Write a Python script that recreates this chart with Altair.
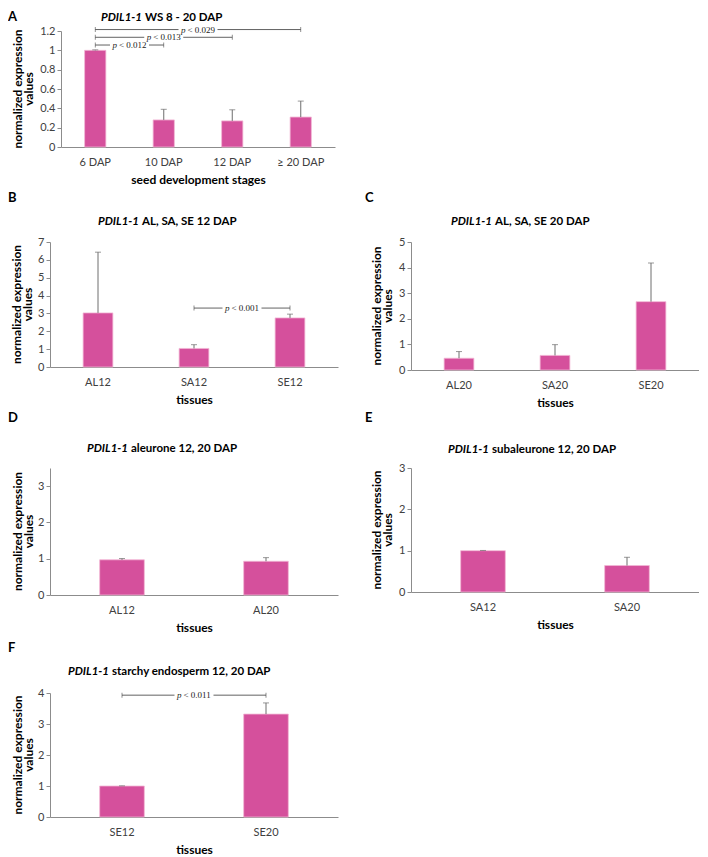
import altair as alt
import pandas as pd

FONT = "Lato"
SERIF = "Liberation Serif"
BAR = "#D5509C"
BAR_EDGE = "#F2B8D6"
AXIS = "#8C8C8C"
ERR = "#6E6E6E"
LINE = "#3A3A3A"
YTITLE1 = "normalized expression"
YTITLE2 = "values"

# ---------------- data ----------------
# A: seed development stages
a_cats = ["6 DAP", "10 DAP", "12 DAP", "≥ 20 DAP"]
a_vals = [1.00, 0.28, 0.27, 0.31]
a_errs = [0.005, 0.11, 0.115, 0.165]
a_yticks = [0, 0.2, 0.4, 0.6, 0.8, 1, 1.2]
a_br_from = [0, 0, 0]
a_br_to = [1, 2, 3]
a_br_y = [1.055, 1.135, 1.215]
a_br_p = ["< 0.012", "< 0.013", "< 0.029"]

# B: tissues 12 DAP
b_cats = ["AL12", "SA12", "SE12"]
b_vals = [3.03, 1.04, 2.75]
b_errs = [3.40, 0.21, 0.21]
b_yticks = [0, 1, 2, 3, 4, 5, 6, 7]
b_br_from = [1]
b_br_to = [2]
b_br_y = [3.3]
b_br_p = ["< 0.001"]

# C: tissues 20 DAP
c_cats = ["AL20", "SA20", "SE20"]
c_vals = [0.46, 0.57, 2.67]
c_errs = [0.26, 0.42, 1.51]
c_yticks = [0, 1, 2, 3, 4, 5]

# D: aleurone
d_cats = ["AL12", "AL20"]
d_vals = [0.97, 0.93]
d_errs = [0.035, 0.10]
d_yticks = [0, 1, 2, 3]

# E: subaleurone
e_cats = ["SA12", "SA20"]
e_vals = [1.00, 0.64]
e_errs = [0.005, 0.20]
e_yticks = [0, 1, 2, 3]

# F: starchy endosperm
f_cats = ["SE12", "SE20"]
f_vals = [1.00, 3.32]
f_errs = [0.005, 0.36]
f_yticks = [0, 1, 2, 3, 4]
f_br_from = [0]
f_br_to = [1]
f_br_y = [3.93]
f_br_p = ["< 0.011"]

TFS = 11.5  # panel title font size


def panel(cats, vals, errs, ymax, yticks, W, H, xtitle, t_it, t_rest, letter,
          t_split, t_base, l_x, l_base, ytx, br=None):
    n = len(cats)
    df = pd.DataFrame({"cat": cats, "val": vals,
                       "top": [v + e for v, e in zip(vals, errs)]})
    xs = alt.Scale(domain=cats, paddingInner=0.69, paddingOuter=0.345)
    xa = alt.Axis(title=xtitle, labelAngle=0, ticks=False, tickSize=0,
                  labelPadding=9, titleY=27, titleBaseline="top",
                  domainColor=AXIS, labelFont=FONT, labelFontSize=11,
                  labelColor="#404040", titleFont=FONT, titleFontSize=12,
                  titleFontWeight="bold", titleColor="black")
    ys = alt.Scale(domain=[0, ymax], nice=False, zero=True)
    ya = alt.Axis(title=None, values=yticks, format="~g", grid=False,
                  tickSize=4, tickColor=AXIS, domainColor=AXIS, labelPadding=2,
                  labelFont=FONT, labelFontSize=11, labelColor="#404040")
    X = alt.X("cat:N", sort=cats, scale=xs, axis=xa)
    base = alt.Chart(df)
    bars = base.mark_bar(color=BAR, stroke=BAR_EDGE, strokeWidth=0.8).encode(
        x=X, y=alt.Y("val:Q", scale=ys, axis=ya))
    err = base.mark_rule(color=ERR, strokeWidth=1).encode(
        x=X, y=alt.Y("val:Q", scale=ys, axis=ya), y2="top:Q")
    cap = base.mark_tick(orient="horizontal", color=ERR, size=6, thickness=1).encode(
        x=X, y=alt.Y("top:Q", scale=ys, axis=ya))
    main = alt.layer(bars, err, cap)

    tdf = pd.DataFrame({"it": [t_it], "rest": [t_rest], "letter": [letter],
                        "y1": [YTITLE1], "y2": [YTITLE2]})
    tb = alt.Chart(tdf)
    t1 = tb.mark_text(font=FONT, fontSize=TFS, fontWeight="bold", fontStyle="italic",
                      align="right", baseline="alphabetic", color="black").encode(
        text="it:N", x=alt.value(t_split), y=alt.value(t_base))
    t2 = tb.mark_text(font=FONT, fontSize=TFS, fontWeight="bold",
                      align="left", baseline="alphabetic", color="black").encode(
        text="rest:N", x=alt.value(t_split + 3), y=alt.value(t_base))
    t3 = tb.mark_text(font=FONT, fontSize=13, fontWeight="bold",
                      align="left", baseline="alphabetic", color="black").encode(
        text="letter:N", x=alt.value(l_x), y=alt.value(l_base))
    yt1 = tb.mark_text(font=FONT, fontSize=12, fontWeight="bold", angle=270,
                       align="center", baseline="alphabetic", color="black").encode(
        text="y1:N", x=alt.value(ytx - 11), y=alt.value(H / 2))
    yt2 = tb.mark_text(font=FONT, fontSize=12, fontWeight="bold", angle=270,
                       align="center", baseline="alphabetic", color="black").encode(
        text="y2:N", x=alt.value(ytx), y=alt.value(H / 2))
    texts = [t1, t2, t3, yt1, yt2]

    if br is None:
        ch = alt.layer(main, *texts)
    else:
        bf, bt, by, bp = br
        bdf = pd.DataFrame({"x1": bf, "x2": bt,
                            "mid": [(a + b) / 2 for a, b in zip(bf, bt)],
                            "y": by, "p": ["p"] * len(bf), "rest": bp})
        edf = pd.DataFrame({"x": list(bf) + list(bt), "y": list(by) + list(by)})
        qx = alt.Scale(domain=[-0.5, n - 0.5], nice=False, zero=False)
        Yb = alt.Y("y:Q", scale=ys, axis=ya)
        bb = alt.Chart(bdf)
        rule = bb.mark_rule(color=LINE, strokeWidth=0.8).encode(
            x=alt.X("x1:Q", scale=qx, axis=None), x2="x2:Q", y=Yb)
        ends = alt.Chart(edf).mark_tick(orient="vertical", color=LINE, size=5,
                                        thickness=0.8).encode(
            x=alt.X("x:Q", scale=qx, axis=None), y=Yb)
        gap = bb.mark_point(shape="M-1,-0.13L1,-0.13L1,0.13L-1,0.13Z", filled=True,
                            color="white", opacity=1, size=1520).encode(
            x=alt.X("mid:Q", scale=qx, axis=None), y=Yb)
        ptxt = bb.mark_text(font=SERIF, fontSize=9, fontStyle="italic", color="#222222",
                            align="left", baseline="middle", dx=-17).encode(
            x=alt.X("mid:Q", scale=qx, axis=None), y=Yb, text="p:N")
        rtxt = bb.mark_text(font=SERIF, fontSize=9, color="#222222",
                            align="left", baseline="middle", dx=-10.5).encode(
            x=alt.X("mid:Q", scale=qx, axis=None), y=Yb, text="rest:N")
        brk = alt.layer(rule, ends, gap, ptxt, rtxt)
        ch = alt.layer(main, brk, *texts).resolve_scale(x="independent")
    return ch.properties(width=W, height=H)


A = panel(a_cats, a_vals, a_errs, 1.2, a_yticks, 274, 116,
          "seed development stages", "PDIL1-1", "WS 8 - 20 DAP", "A",
          81, -10, -53, -10, -28,
          br=(a_br_from, a_br_to, a_br_y, a_br_p))
B = panel(b_cats, b_vals, b_errs, 7, b_yticks, 288, 125,
          "tissues", "PDIL1-1", "AL, SA, SE 12 DAP", "B",
          89, -17, -42, -40, -18,
          br=(b_br_from, b_br_to, b_br_y, b_br_p))
C = panel(c_cats, c_vals, c_errs, 5, c_yticks, 288, 128,
          "tissues", "PDIL1-1", "AL, SA, SE 20 DAP", "C",
          81, -17, -46, -40, -19)
D = panel(d_cats, d_vals, d_errs, 3.5, d_yticks, 288, 127,
          "tissues", "PDIL1-1", "aleurone 12, 20 DAP", "D",
          78, -16, -42, -46, -17)
E = panel(e_cats, e_vals, e_errs, 3, e_yticks, 288, 124,
          "tissues", "PDIL1-1", "subaleurone 12, 20 DAP", "E",
          78, -15, -46, -46, -19)
F = panel(f_cats, f_vals, f_errs, 4, f_yticks, 288, 124,
          "tissues", "PDIL1-1", "starchy endosperm 12, 20 DAP", "F",
          59, -18, -42, -41, -17,
          br=(f_br_from, f_br_to, f_br_y, f_br_p))

# empty spacer that shifts panel A right of the grid's first column
spacer = alt.Chart(pd.DataFrame({"s": [""]})).mark_text().encode(
    text="s:N", x=alt.value(0), y=alt.value(0)).properties(width=11, height=10)
rowA = alt.hconcat(spacer, A, spacing=0, bounds="flush")

grid = alt.concat(B, C, D, E, F, columns=2,
                  spacing={"row": 98, "column": 73},
                  bounds="flush", align="each")

chart = alt.vconcat(rowA, grid, spacing=7).properties(
    padding={"left": 0, "top": 3, "right": 0, "bottom": 0},
    background="white"
).configure_view(stroke=None)

chart.save("out.html", embed_options={"renderer": "svg", "actions": False})
